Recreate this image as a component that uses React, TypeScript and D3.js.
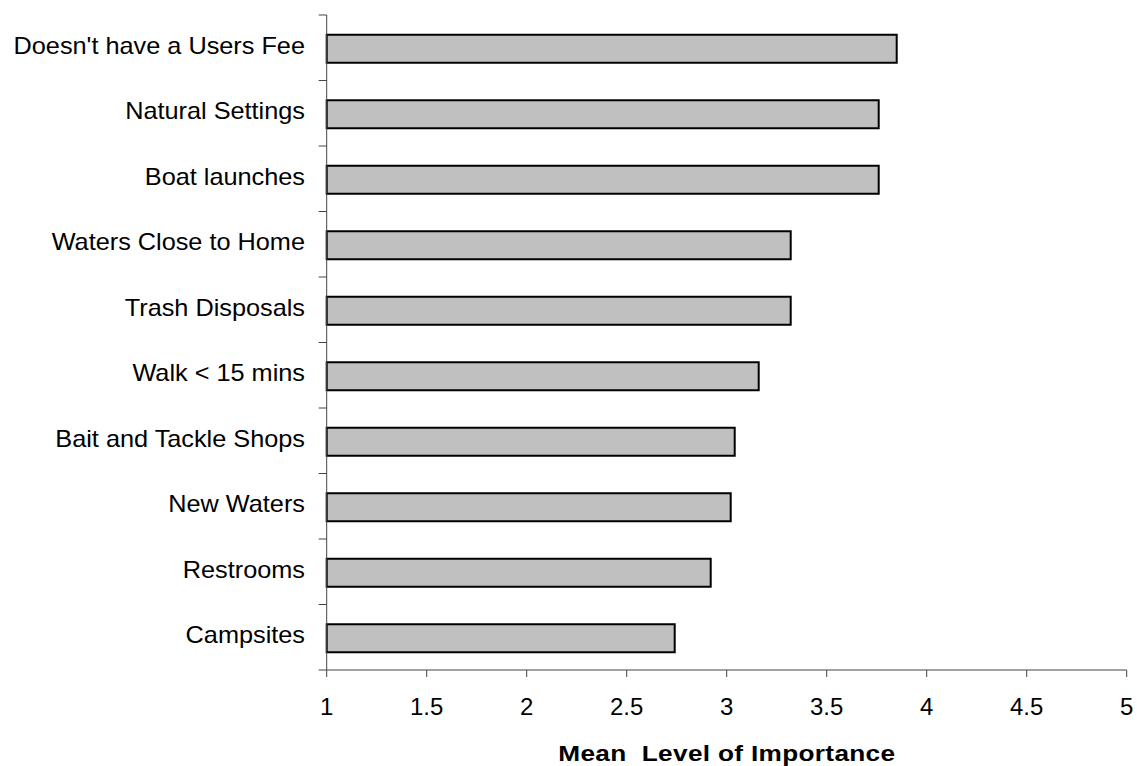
import React from "react";
import * as d3 from "d3";

const categories = [
  "Doesn't have a Users Fee",
  "Natural Settings",
  "Boat launches",
  "Waters Close to Home",
  "Trash Disposals",
  "Walk < 15 mins",
  "Bait and Tackle Shops",
  "New Waters",
  "Restrooms",
  "Campsites",
];
const values = [3.85, 3.76, 3.76, 3.32, 3.32, 3.16, 3.04, 3.02, 2.92, 2.74];
const xTicks = [1, 1.5, 2, 2.5, 3, 3.5, 4, 4.5, 5];
const xTitle = "Mean  Level of Importance";

const W = 1137;
const H = 766;
const left = 326.7;
const right = 1126.7;
const top = 15;
const bottom = 670;
const barH = 28;
const font = "Arial, 'Liberation Sans', Helvetica, sans-serif";

export default function App() {
  const x = d3.scaleLinear().domain([1, 5]).range([left, right]);
  const y = d3.scaleBand<string>().domain(categories).range([top, bottom]).padding(0);
  const bw = y.bandwidth();
  const boundaries = d3.range(categories.length + 1).map((i) => top + i * y.step());

  return (
    <svg
      width={W}
      height={H}
      style={{ position: "absolute", left: 0, top: 0, background: "#fff" }}
      fontFamily={font}
    >
      {/* bars */}
      {categories.map((c, i) => (
        <rect
          key={c}
          x={x(1)}
          y={(y(c) as number) + (bw - barH) / 2 + 1}
          width={x(values[i]) - x(1)}
          height={barH}
          fill="#C0C0C0"
          stroke="#000"
          strokeWidth={2}
        />
      ))}
      {/* y axis */}
      <line x1={left} x2={left} y1={top} y2={bottom} stroke="#444" strokeWidth={1} />
      {boundaries.map((b, i) => (
        <line key={i} x1={left - 8} x2={left} y1={b} y2={b} stroke="#444" strokeWidth={1} />
      ))}
      {categories.map((c) => (
        <text
          key={c}
          transform={`translate(305, ${(y(c) as number) + bw / 2 + 6}) scale(1.1,1)`}
          textAnchor="end"
          fontSize={23}
          fill="#000"
        >
          {c}
        </text>
      ))}
      {/* x axis */}
      <line x1={left} x2={right} y1={bottom} y2={bottom} stroke="#444" strokeWidth={1} />
      {xTicks.map((t) => (
        <g key={t}>
          <line x1={x(t)} x2={x(t)} y1={bottom} y2={bottom + 7} stroke="#444" strokeWidth={1} />
          <text
            transform={`translate(${x(t)}, 715) scale(1.02,1)`}
            textAnchor="middle"
            fontSize={23.5}
            fill="#000"
          >
            {String(t)}
          </text>
        </g>
      ))}
      <text
        transform={`translate(${(left + right) / 2}, 761) scale(1.19,1)`}
        textAnchor="middle"
        fontSize={22}
        fontWeight="bold"
        fill="#000"
        textLength={283}
        lengthAdjust="spacing"
        style={{ whiteSpace: "pre" }}
      >
        {xTitle}
      </text>
    </svg>
  );
}
